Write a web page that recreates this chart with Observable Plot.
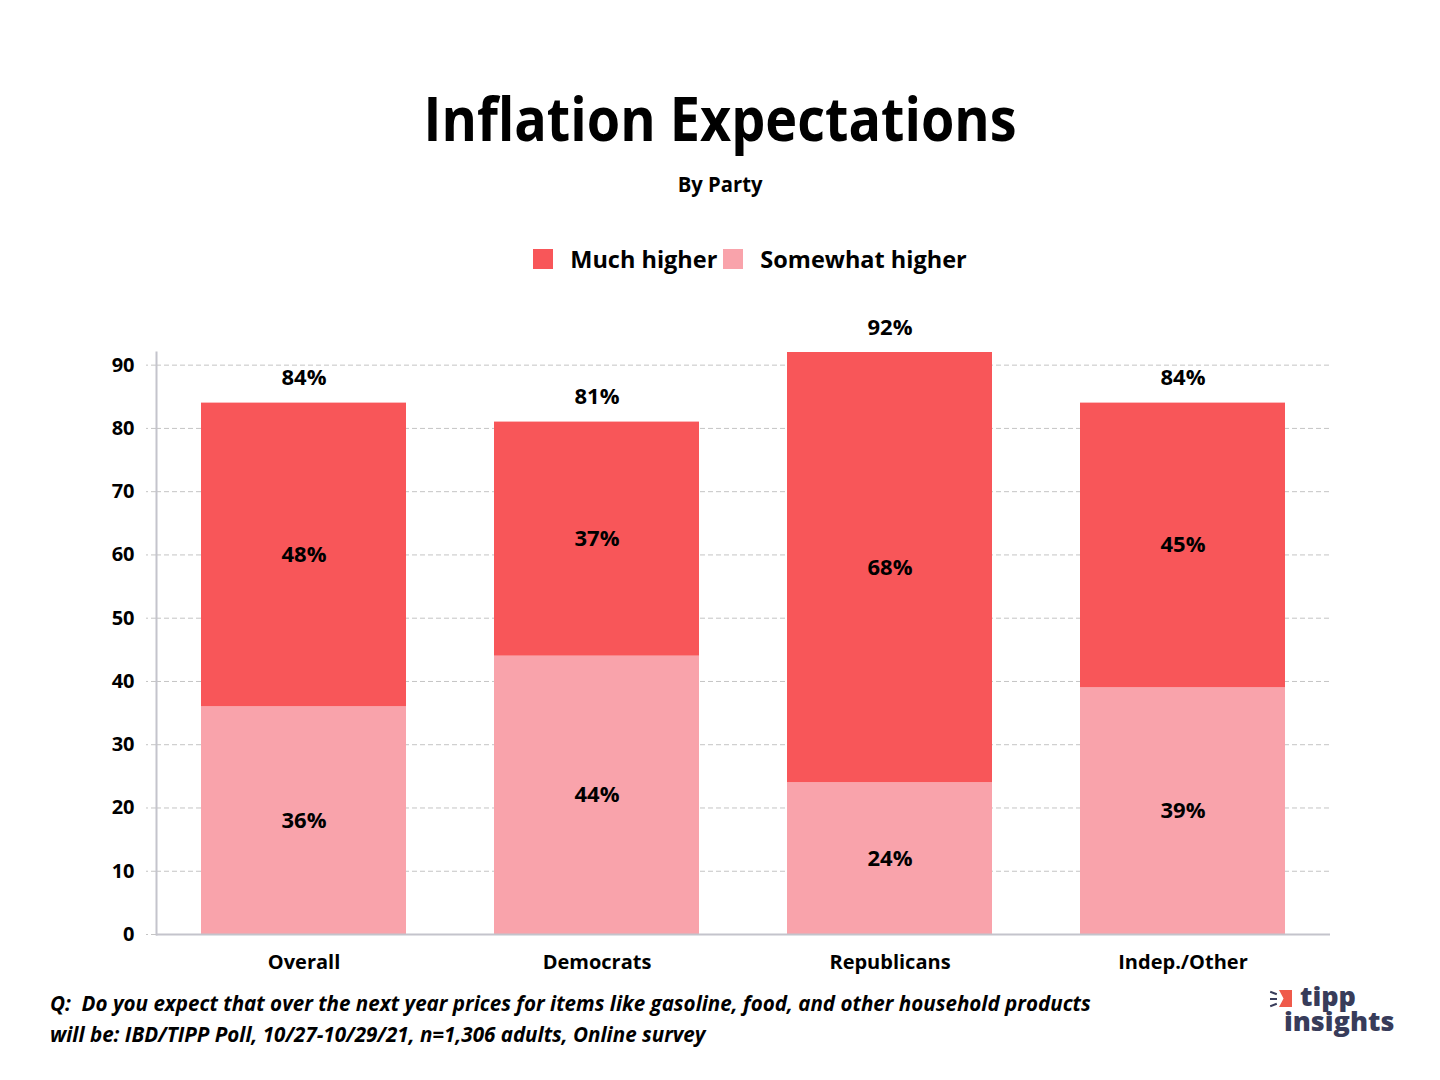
<!DOCTYPE html>
<html>
<head>
<meta charset="utf-8">
<script src="https://cdn.jsdelivr.net/npm/d3@7"></script>
<script src="https://cdn.jsdelivr.net/npm/@observablehq/plot@0.6"></script>
<style>
  html, body { margin: 0; padding: 0; background: #fff; }
  #page { position: relative; width: 1440px; height: 1080px; overflow: hidden; font-family: "Open Sans", "Noto Sans", sans-serif; color: #000; }
  .center { position: absolute; left: 0; width: 1440px; text-align: center; }
  .center span { display: inline-block; }
  #title { top: 80px; font-weight: 700; font-size: 61px; line-height: 76px; }
  #title span { transform: scaleX(0.885); }
  #subtitle { top: 168px; font-weight: 700; font-size: 22px; line-height: 30px; }
  #subtitle span { transform: scaleX(0.92); }
  #legend { position: absolute; top: 243px; left: 0; width: 1440px; display: flex; justify-content: center; align-items: center; font-weight: 700; font-size: 23.5px; padding-left: 60px; box-sizing: border-box; }
  .item { display: flex; align-items: center; margin: 0 3px; }
  .sw { width: 20px; height: 20px; margin-right: 17px; }
  #chart { position: absolute; top: 300px; left: 0; }
  #caption { position: absolute; top: 988px; left: 50px; font-weight: 700; font-style: italic; font-size: 21px; line-height: 31px; transform: scaleX(0.98); transform-origin: 0 0; white-space: nowrap; }
  #logo { position: absolute; top: 984px; left: 1270px; width: 160px; height: 60px; color: #383c5a; font-weight: 800; font-size: 27px; }
  #logo .t { position: absolute; left: 14px; top: -1px; white-space: pre; line-height: 25px; text-indent: 16px; }
  #logo .flag { position: absolute; left: 9px; top: 6px; width: 13px; height: 17px; background: #ef5a4b; clip-path: polygon(0 0, 100% 0, 100% 100%, 0 100%, 35% 50%); }
  #logo .ray { position: absolute; left: 0; height: 2px; width: 7px; background: #383c5a; }
</style>
</head>
<body>
<div id="page">
  <div id="title" class="center"><span>Inflation Expectations</span></div>
  <div id="subtitle" class="center"><span>By Party</span></div>
  <div id="legend"></div>
  <div id="chart"></div>
  <div id="caption">Q:&nbsp; Do you expect that over the next year prices for items like gasoline, food, and other household products<br>will be: IBD/TIPP Poll, 10/27-10/29/21, n=1,306 adults, Online survey</div>
  <div id="logo">
    <div class="ray" style="top:8px;transform:rotate(20deg)"></div>
    <div class="ray" style="top:14px"></div>
    <div class="ray" style="top:20px;transform:rotate(-20deg)"></div>
    <div class="flag"></div>
    <div class="t">tipp
insights</div>
  </div>
</div>
<script>
const categories = ["Overall", "Democrats", "Republicans", "Indep./Other"];
const series = ["Much higher", "Somewhat higher"];
const muchHigher = [48, 37, 68, 45];
const somewhatHigher = [36, 44, 24, 39];
const totals = [84, 81, 92, 84];
const colors = ["#f85659", "#f9a3ab"];
const yTicks = [0, 10, 20, 30, 40, 50, 60, 70, 80, 90];

const rows = [];
categories.forEach((c, i) => {
  rows.push({category: c, series: "Somewhat higher", value: somewhatHigher[i]});
  rows.push({category: c, series: "Much higher", value: muchHigher[i]});
});
const totalRows = categories.map((c, i) => ({category: c, total: totals[i]}));

// legend
const legend = document.getElementById("legend");
series.forEach((s, i) => {
  const it = document.createElement("div");
  it.className = "item";
  it.innerHTML = `<div class="sw" style="background:${colors[i]}"></div><span>${s}</span>`;
  legend.appendChild(it);
});

const stackOpts = {x: "category", y: "value", z: "series", order: ["Somewhat higher", "Much higher"]};

const chart = Plot.plot({
  width: 1440,
  height: 680,
  marginTop: 52,
  marginBottom: 46,
  marginLeft: 156,
  marginRight: 110,
  style: {fontFamily: "'Open Sans', 'Noto Sans', sans-serif", fontSize: "20px", fontWeight: 700, color: "#000", background: "#fff"},
  x: {domain: categories, paddingInner: 0.3, paddingOuter: 0.15, label: null},
  y: {domain: [0, 92], label: null},
  color: {domain: series, range: colors},
  marks: [
    Plot.axisY({ticks: yTicks, tickSize: 10, tickPadding: 12, stroke: "#c4c4c4", strokeDasharray: "5,3", fontSize: 20, fontWeight: 700, fill: "#000", label: null}),
    Plot.gridY({ticks: yTicks, stroke: "#c4c4c4", strokeOpacity: 1, strokeDasharray: "5,3"}),
    Plot.barY(rows, Plot.stackY({...stackOpts, fill: "series"})),
    Plot.text(rows, Plot.stackY({...stackOpts, text: d => d.value + "%", fontSize: 22, fontWeight: 700, fill: "#000"})),
    Plot.text(totalRows, {x: "category", y: "total", text: d => d.total + "%", dy: -25, fontSize: 22, fontWeight: 700, fill: "#000"}),
    Plot.ruleY([0], {stroke: "#c4c4cc", strokeWidth: 2}),
    Plot.frame({anchor: "left", stroke: "#c4c4cc", strokeWidth: 2}),
    Plot.axisX({tickSize: 0, tickPadding: 20, fontSize: 20, fontWeight: 700, fill: "#000", label: null})
  ]
});
document.getElementById("chart").appendChild(chart);
</script>
</body>
</html>
